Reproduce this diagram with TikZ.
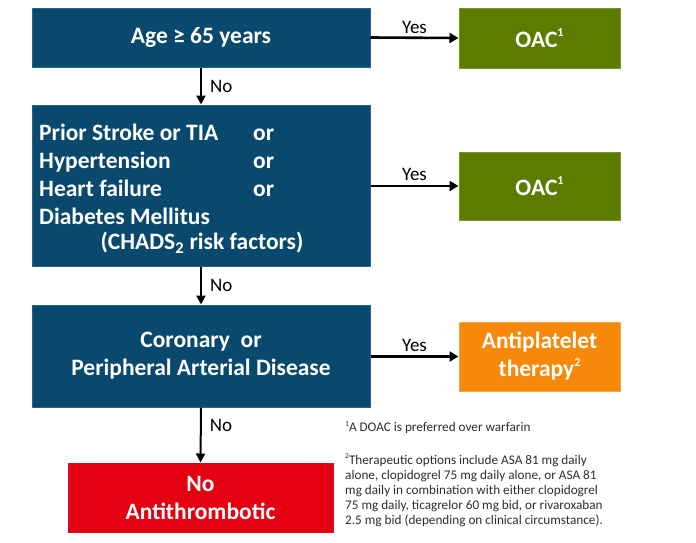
\documentclass[tikz,border=0pt]{standalone}
\usepackage{fontspec}
\setmainfont{Carlito}
\usetikzlibrary{arrows.meta}
\definecolor{qblue}{RGB}{9,73,110}
\definecolor{qblueb}{RGB}{40,100,135}
\definecolor{qgreen}{RGB}{92,124,0}
\definecolor{qgreenb}{RGB}{120,150,40}
\definecolor{qorange}{RGB}{247,137,10}
\definecolor{qorangeb}{RGB}{250,165,70}
\definecolor{qred}{RGB}{228,0,16}
\definecolor{qredb}{RGB}{200,20,30}
\definecolor{qnote}{RGB}{45,45,45}
\newcommand{\bsup}[1]{\raisebox{0.45em}{\fontsize{12}{12}\selectfont #1}}
\newcommand{\nsup}[1]{\raisebox{0.45em}{\fontsize{7.5}{8}\selectfont #1}}
\tikzset{
  qbox/.style={draw, line width=1pt, inner sep=0pt, align=center, text=white,
    font=\fontsize{23.5}{28}\selectfont\bfseries},
  bluebox/.style={qbox, fill=qblue, draw=qblueb},
  greenbox/.style={qbox, fill=qgreen, draw=qgreenb},
  orangebox/.style={qbox, fill=qorange, draw=qorangeb},
  redbox/.style={qbox, fill=qred, draw=qredb},
  harrow/.style={line width=2.6pt, -{Triangle[length=9pt,width=10pt]}},
  varrow/.style={line width=2pt, -{Triangle[length=9pt,width=9pt]}},
  lbl/.style={font=\fontsize{19}{22}\selectfont, inner sep=0pt},
  note/.style={font=\fontsize{13.2}{15}\selectfont, text=qnote, align=left, inner sep=0pt, anchor=north west}
}
\begin{document}
\begin{tikzpicture}[x=1pt,y=-1pt]
\useasboundingbox (0,0) rectangle (696,542);
% boxes
\node[bluebox, minimum width=338pt, minimum height=59pt] (b1) at (201,37.5) {Age ≥ 65 years};
\node[greenbox, minimum width=161pt, minimum height=60pt] (g1) at (539.5,38) {OAC\bsup{1}};
\node[bluebox, minimum width=338pt, minimum height=161pt] (b2) at (201,185.5) {};
\node[greenbox, minimum width=161pt, minimum height=68pt] (g2) at (539.5,186) {OAC\bsup{1}};
\node[bluebox, minimum width=338pt, minimum height=102pt] (b3) at (201,356) {Coronary\ \ or\\Peripheral Arterial Disease};
\node[orangebox, minimum width=161pt, minimum height=69pt] (o3) at (539.5,356.5) {Antiplatelet\\therapy\bsup{2}};
\node[redbox, minimum width=265pt, minimum height=69pt] (r4) at (200.5,497.5) {No\\Antithrombotic};
% box 2 text
\node[inner sep=0pt, text=white, align=left, anchor=west, font=\fontsize{23.5}{28}\selectfont\bfseries] (b2t) at (39,174)
  {\makebox[214pt][l]{Prior Stroke or TIA}or\\
   \makebox[214pt][l]{Hypertension}or\\
   \makebox[214pt][l]{Heart failure}or\\
   Diabetes Mellitus};
\node[inner sep=0pt, text=white, font=\fontsize{23.5}{28}\selectfont\bfseries] (b2c) at (202,243)
  {(CHADS\textsubscript{2} risk factors)};
% arrows
\draw[harrow] (b1.east) -- (g1.west) node[lbl, midway, above=3pt] (y1) {Yes};
\draw[harrow] (b2.east |- g2.west) -- (g2.west) node[lbl, midway, above=4pt] (y2) {Yes};
\draw[harrow] (b3.east |- o3.west) -- (o3.west) node[lbl, midway, above=4pt] (y3) {Yes};
\draw[varrow] (b1.south) -- (b2.north) node[lbl, midway, right=8pt] (n1) {No};
\draw[varrow] (b2.south) -- (b3.north) node[lbl, midway, right=8pt] (n2) {No};
\draw[varrow] (b3.south) -- (r4.north) node[lbl, pos=0.33, right=8pt] (n3) {No};
% footnotes
\node[note] (f1) at (345,421) {\nsup{1}A DOAC is preferred over warfarin};
\node[note] (f2) at (345,453) {\nsup{2}Therapeutic options include ASA 81 mg daily\\
alone, clopidogrel 75 mg daily alone, or ASA 81\\
mg daily in combination with either clopidogrel\\
75 mg daily, ticagrelor 60 mg bid, or rivaroxaban\\
2.5 mg bid (depending on clinical circumstance).};
\end{tikzpicture}
\end{document}
